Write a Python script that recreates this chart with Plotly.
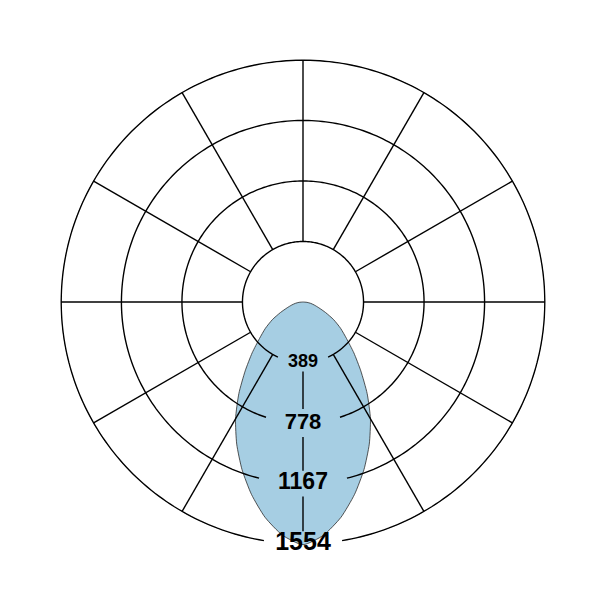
import numpy as np
import plotly.graph_objects as go

# Light distribution (intensity vs angle from nadir, degrees); symmetric
angles = [0, 5, 10, 15, 20, 25, 30, 35, 40, 45, 50, 55, 60, 65, 70, 75, 80, 85, 90]
intensity = [1560, 1505, 1405, 1280, 1146, 1008, 867, 719, 578, 462, 365, 295, 228, 160, 108, 75, 50, 26, 0]

ring_values = [389, 778, 1167, 1554]
ring_labels = ["389", "778", "1167", "1554"]
spoke_angles = [30, 60, 90, 120, 150, 180, 210, 240, 270, 300, 330]

# style constants
ring_gap_deg = [24.5, 17.8, 14.0, 9.3]      # half-gap of each ring around its label
label_gap_val = [58, 90, 83, 80]            # half-gap on the nadir spoke around each label
label_sizes = [18, 22, 23, 25]
LINE = dict(color="black", width=1.4)
RANGE_PAD = 1.005                           # keep the outer ring clear of the clip edge

# full symmetric curve
th = angles + [270] + [360 - a for a in reversed(angles[:-1])]
rr = intensity + [0] + list(reversed(intensity[:-1]))

fig = go.Figure()
fig.add_trace(go.Scatterpolar(
    r=rr, theta=th, mode="lines", fill="toself", cliponaxis=False,
    fillcolor="#a6cee3", line=dict(color="#2b2b2b", width=0.8, shape="spline", smoothing=0.6),
    hoverinfo="skip", showlegend=False))

# rings with gaps around labels
for val, gap in zip(ring_values, ring_gap_deg):
    t = np.linspace(gap, 360 - gap, 300)
    fig.add_trace(go.Scatterpolar(r=[val] * len(t), theta=t, mode="lines", cliponaxis=False,
                                  line=LINE, hoverinfo="skip", showlegend=False))

# spokes from first ring to outer ring
sr, st = [], []
for a in spoke_angles:
    sr += [ring_values[0], ring_values[-1], None]
    st += [a, a, None]
# nadir spoke split between labels
for i in range(len(ring_values) - 1):
    sr += [ring_values[i] + label_gap_val[i], ring_values[i + 1] - label_gap_val[i + 1], None]
    st += [0, 0, None]
fig.add_trace(go.Scatterpolar(r=sr, theta=st, mode="lines", line=LINE, cliponaxis=False,
                              hoverinfo="skip", showlegend=False))

# ring labels
fig.add_trace(go.Scatterpolar(
    r=ring_values, theta=[0] * len(ring_values), mode="text", text=ring_labels,
    textposition="middle center", cliponaxis=False,
    textfont=dict(family="Liberation Sans, Arial, sans-serif", size=label_sizes,
                  color="black", weight="bold"),
    hoverinfo="skip", showlegend=False))

fig.update_layout(
    width=601, height=601,
    margin=dict(l=52, r=63, t=51, b=64),
    paper_bgcolor="white", plot_bgcolor="white",
    showlegend=False,
    polar=dict(
        bgcolor="white",
        domain=dict(x=[0, 1], y=[0, 1]),
        radialaxis=dict(range=[0, ring_values[-1] * RANGE_PAD], showgrid=False, showline=False,
                        showticklabels=False, ticks=""),
        angularaxis=dict(rotation=270, direction="clockwise", showgrid=False,
                         showline=False, showticklabels=False, ticks=""),
    ),
)

fig.write_html("out.html")
